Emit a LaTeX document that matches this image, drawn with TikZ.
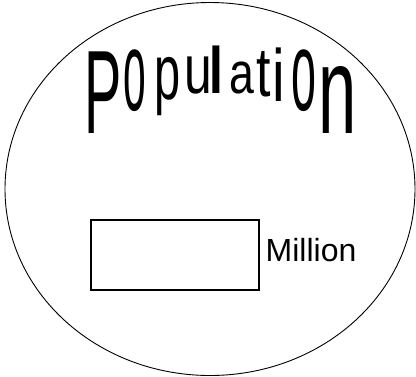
\documentclass[tikz,border=0pt]{standalone}
\usepackage{fontspec}
\setmainfont{Liberation Sans}
\usepackage{graphicx}
% #1 x centre, #2 ink top, #3 ink bottom, #4 ink width,
% #5 ink height (em), #6 depth (em), #7 ink width (em), #8 letter, #9 name
\newcommand{\wordletter}[9]{%
  \pgfmathsetmacro{\lsy}{(#3-#2)/(#5*40)}%
  \pgfmathsetmacro{\lsx}{#4/(#7*40)}%
  \pgfmathsetmacro{\lbase}{#3-#6*(#3-#2)/#5}%
  \node[glyph] (#9) at (#1,\lbase) {\scalebox{\lsx}[\lsy]{\fontsize{40}{40}\selectfont #8}};%
}
\begin{document}
\begin{tikzpicture}[x=1pt,y=-1pt,
  glyph/.style={inner sep=0pt,outer sep=0pt,anchor=base},
  frame/.style={draw=black,line width=0.9pt},
  valuebox/.style={draw=black,line width=1.4pt,inner sep=0pt,minimum width=168pt,minimum height=70pt},
  unitlabel/.style={inner sep=0pt,anchor=base west,font=\fontsize{32}{32}\selectfont}]
\useasboundingbox (0,0) rectangle (416,376);
\draw[frame] (210,189) ellipse [x radius=205, y radius=186.5];
% arched title, letter by letter
\wordletter{103}{48}{133}{30}{0.716}{0}{0.537}{P}{lP}
\wordletter{135}{63}{112}{20}{0.434}{0.012}{0.49}{o}{loa}
\wordletter{168}{58}{116}{21}{0.74}{0.21}{0.448}{p}{lp}
\wordletter{198}{58}{95}{21}{0.534}{0.015}{0.422}{u}{lu}
\wordletter{216}{46}{93}{7}{0.716}{0}{0.088}{l}{ll}
\wordletter{242}{62}{94}{22}{0.545}{0.015}{0.493}{a}{la}
\wordletter{264}{48}{98}{13}{0.718}{0.015}{0.25}{t}{lt}
\wordletter{278.5}{48}{101}{5}{0.716}{0}{0.088}{i}{li}
\wordletter{304}{63}{112}{22}{0.434}{0.012}{0.49}{o}{lob}
\wordletter{337.5}{67}{133}{29}{0.53}{0}{0.422}{n}{ln}
\node[valuebox] (box) at (175,255) {};
\node[unitlabel] (unit) at (265.5,261) {Million};
\end{tikzpicture}
\end{document}
